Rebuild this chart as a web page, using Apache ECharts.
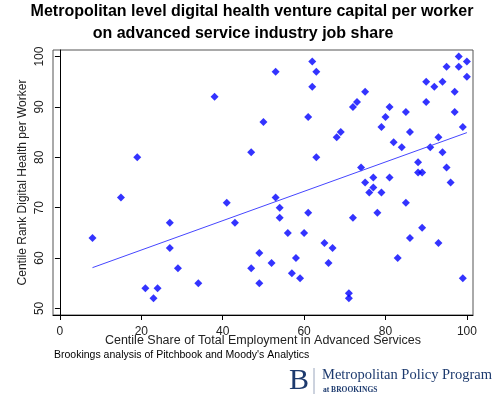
<!DOCTYPE html>
<html>
<head>
<meta charset="utf-8">
<script src="https://cdn.jsdelivr.net/npm/echarts@6/dist/echarts.min.js"></script>
<style>
  html, body { margin: 0; padding: 0; background: #fff; }
  #chart { width: 497px; height: 399px; }
</style>
</head>
<body>
<div id="chart"></div>
<script>
// centile share of advanced-services employment (x) vs centile rank of digital health VC per worker (y)
const shareX = [19, 62, 53, 63, 62, 38, 50, 61, 47, 63,
  98, 100, 95, 98, 100, 90, 92, 94, 75, 73,
  72, 97, 90, 81, 80, 85, 97, 79, 86, 99,
  69, 68, 93, 82, 84, 91, 94, 88, 74, 95,
  88, 89, 77, 81, 75, 96, 77, 76, 79, 85,
  78, 72, 89, 86, 93, 67, 83, 99, 71, 71,
  41, 53, 54, 54, 61, 43, 56, 60, 65, 49,
  58, 66, 52, 47, 57, 59, 34, 49, 15, 27,
  8, 27, 29, 21, 24, 23]
const rankY = [80, 99, 97, 97, 94, 92, 87, 88, 81, 80,
  100, 99, 98, 98, 96, 95, 94, 95, 93, 91,
  90, 93, 91, 90, 88, 89, 89, 86, 85, 86,
  85, 84, 84, 83, 82, 82, 81, 79, 78, 78,
  77, 77, 76, 76, 75, 75, 74, 73, 73, 71,
  69, 68, 66, 64, 63, 62, 60, 56, 53, 52,
  71, 72, 70, 68, 69, 67, 65, 65, 63, 61,
  60, 59, 59, 58, 57, 56, 55, 55, 72, 67,
  64, 62, 58, 54, 54, 52]
// fitted line end points
const fitX = [8, 100]
const fitY = [58.1, 84.9]

const xTicks = [0, 20, 40, 60, 80, 100]
const yTicks = [50, 60, 70, 80, 90, 100]

const titleLines = ['Metropolitan level digital health venture capital per worker', 'on advanced service industry job share']
const xName = 'Centile Share of Total Employment in Advanced Services'
const yName = 'Centile Rank Digital Health per Worker'
const sourceNote = "Brookings analysis of Pitchbook and Moody's Analytics"

const points = shareX.map((x, i) => [x, rankY[i]])
const fitLine = fitX.map((x, i) => [x, fitY[i]])

const navy = '#1d3a6e'
const chart = echarts.init(document.getElementById('chart'), null, { renderer: 'canvas' })

chart.setOption({
  animation: false,
  backgroundColor: '#fff',
  textStyle: { fontFamily: 'Liberation Sans, Arial, sans-serif' },
  grid: {
    left: 53, top: 50, right: 24, bottom: 84,
    show: true, borderColor: '#555', borderWidth: 1, backgroundColor: '#fff'
  },
  xAxis: {
    type: 'value', min: -1.7, max: 101.5,
    name: xName, nameLocation: 'middle', nameGap: 19, nameMoveOverlap: false,
    nameTextStyle: { color: '#222', fontSize: 12.5 },
    axisLine: { show: true, lineStyle: { color: '#000', width: 1 } },
    axisTick: { show: true, length: 5, customValues: xTicks, lineStyle: { color: '#000' } },
    axisLabel: { customValues: xTicks, color: '#222', fontSize: 12, margin: 11 },
    splitLine: { show: false }
  },
  yAxis: {
    type: 'value', min: 48.7, max: 101.3,
    name: yName, nameLocation: 'middle', nameGap: 24, nameRotate: 90, nameMoveOverlap: false,
    nameTextStyle: { color: '#222', fontSize: 12 },
    axisLine: { show: true, lineStyle: { color: '#000', width: 1 } },
    axisTick: { show: true, length: 5, customValues: yTicks, lineStyle: { color: '#000' } },
    axisLabel: { customValues: yTicks, color: '#222', fontSize: 12, rotate: 90, margin: 7 },
    splitLine: { show: false }
  },
  series: [
    {
      type: 'scatter',
      data: points,
      symbol: 'diamond',
      symbolSize: 8,
      itemStyle: { color: '#0000ff' }
    },
    {
      type: 'line',
      data: fitLine,
      symbol: 'none',
      lineStyle: { color: '#4646ff', width: 1 }
    }
  ],
  graphic: [
    {
      type: 'text', x: 252, y: 4,
      style: { text: titleLines[0], font: 'bold 16px Liberation Sans, Arial, sans-serif', fill: '#000', align: 'center' }
    },
    {
      type: 'text', x: 243, y: 26,
      style: { text: titleLines[1], font: 'bold 16px Liberation Sans, Arial, sans-serif', fill: '#000', align: 'center' }
    },
    {
      type: 'text', x: 54, y: 350,
      style: { text: sourceNote, font: '10.5px Liberation Sans, Arial, sans-serif', fill: '#000' }
    },
    {
      type: 'text', x: 289, y: 366,
      style: { text: 'B', font: '30px Liberation Serif, serif', fill: navy }
    },
    {
      type: 'line', shape: { x1: 314, y1: 368, x2: 314, y2: 394 },
      style: { stroke: '#9aa6bd', lineWidth: 1 }
    },
    {
      type: 'text', x: 322, y: 368,
      style: { text: 'Metropolitan Policy Program', font: '14.5px Liberation Serif, serif', fill: navy }
    },
    {
      type: 'text', x: 323, y: 386,
      style: { text: 'at BROOKINGS', font: 'bold 7.5px Liberation Serif, serif', fill: navy }
    }
  ]
})
</script>
</body>
</html>
